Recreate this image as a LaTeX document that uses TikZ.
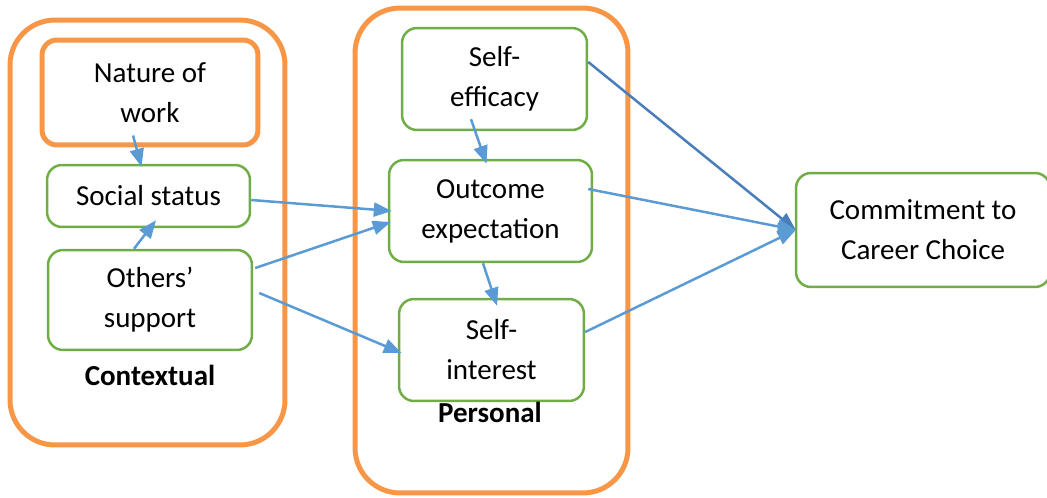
\documentclass[tikz,border=0pt]{standalone}
\usepackage{fontspec}
\setmainfont{Carlito}
\usetikzlibrary{arrows.meta}
\definecolor{frameorange}{HTML}{F79646}
\definecolor{boxgreen}{HTML}{70AD47}
\definecolor{linkblue}{HTML}{5B9BD5}
\definecolor{darkblue}{HTML}{4A7EBB}
\tikzset{group/.style={rectangle,draw=frameorange,line width=0.1cm,rounded corners=0.9cm,inner sep=0pt},
factor/.style={rectangle,draw=boxgreen,line width=0.05cm,rounded corners=0.3cm,inner sep=0pt,
  align=center,font=\fontsize{16.5}{22.8}\selectfont},
key/.style={factor,draw=frameorange,line width=0.1cm},
caption/.style={inner sep=0pt,font=\fontsize{16.5}{20}\selectfont\bfseries},
link/.style={->,draw=linkblue,line width=0.05cm},
>={Triangle[length=0.36cm,width=0.28cm]}}
\begin{document}
\begin{tikzpicture}[x=0.02cm,y=-0.02cm]
  \useasboundingbox (0,0) rectangle (1047,497);
  % the two groups
  \node (ctx) [group,minimum width=5.5cm,minimum height=8.5cm] at (147.5,232.5) {};
  \node (pers) [group,minimum width=5.46cm,minimum height=9.7cm] at (491.5,250.5) {};
  % contextual factors
  \node (nature) [key,minimum width=4.32cm,minimum height=2.1cm] at (150,92.5) {Nature of\\work};
  \node (social) [factor,minimum width=4.06cm,minimum height=1.24cm] at (148.5,196) {Social status};
  \node (others) [factor,minimum width=4.08cm,minimum height=2cm] at (150,300) {Others’\\support};
  \node (ctxlabel) [caption] at (150,375) {Contextual};
  % personal factors
  \node (efficacy) [factor,minimum width=3.7cm,minimum height=2.04cm] at (494.5,79) {Self-\\efficacy};
  \node (outcome) [factor,minimum width=4.06cm,minimum height=2.04cm] at (490.5,211) {Outcome\\expectation};
  \node (interest) [factor,minimum width=3.7cm,minimum height=2.04cm] at (491.5,350) {Self-\\interest};
  \node (perslabel) [caption] at (490,412) {Personal};
  \node (commit) [factor,minimum width=5.08cm,minimum height=2.28cm] at (923,230) {Commitment to\\Career Choice};
  % links
  \draw [link] ([xshift=-0.34cm,yshift=0.24cm]nature.south) -- ([xshift=-0.14cm,yshift=-0.06cm]social.north);
  \draw [link] ([xshift=-0.32cm]others.north) -- ([xshift=0.15cm,yshift=0.16cm]social.south);
  \draw [link] ([yshift=-0.08cm]social.east) -- ([xshift=0.08cm]outcome.west);
  \draw [link] ([xshift=0.04cm,yshift=0.64cm]others.east) -- ([xshift=0.06cm,yshift=-0.22cm]outcome.west);
  \draw [link] ([xshift=0.12cm,yshift=0.14cm]others.east) -- ([xshift=0.08cm,yshift=-0.06cm]interest.west);
  \draw [link] ([xshift=-0.47cm,yshift=0.24cm]efficacy.south) -- ([xshift=-0.08cm,yshift=-0.1cm]outcome.north);
  \draw [link] ([xshift=-0.15cm]outcome.south) -- ([xshift=0.11cm,yshift=-0.16cm]interest.north);
  \draw [link,draw=darkblue] ([yshift=0.34cm]efficacy.east) -- ([xshift=0.02cm]commit.west);
  \draw [link] ([xshift=-0.1cm,yshift=0.44cm]outcome.east) -- ([xshift=0.02cm]commit.west);
  \draw [link] ([yshift=0.36cm]interest.east) -- ([xshift=0.02cm]commit.west);
\end{tikzpicture}
\end{document}
